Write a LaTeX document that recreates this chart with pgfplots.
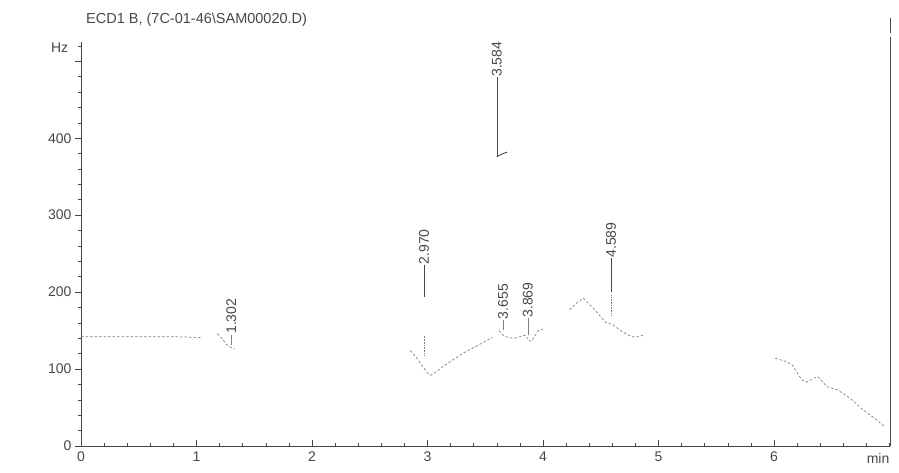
\documentclass[border=0pt]{standalone}
\usepackage{pgfplots}
\pgfplotsset{compat=1.18}
\usepackage{fontspec}
\setmainfont{Liberation Sans}
\definecolor{ink}{gray}{0.28}
\definecolor{trace}{gray}{0.5}
\begin{document}
\begin{tikzpicture}[x=1pt,y=1pt]
\useasboundingbox (0,0) rectangle (899,473);
\begin{axis}[
  at={(81pt,27pt)}, anchor=south west,
  scale only axis, width=808.5pt, height=404pt,
  xmin=0, xmax=7, ymin=0, ymax=525,
  axis x line*=bottom, axis y line*=left,
  axis line style={ink, line width=0.6pt},
  xtick={0,1,2,3,4,5,6}, ytick={0,100,200,300,400,500},
  yticklabels={0,100,200,300,400,{}},
  minor xtick={0,0.2,...,7}, minor ytick={0,20,...,520},
  xtick align=inside, ytick align=outside,
  major tick length=6pt, minor tick length=3pt,
  tick style={ink, line width=0.5pt},
  tick label style={font=\fontsize{14}{14}\selectfont, text=ink},
  xticklabel style={yshift=-2pt},
  /pgf/number format/assume math mode=true,
  clip=false,
]
% detector trace (faint, visible parts only)
\addplot[trace, line width=0.7pt, dash pattern=on 2.5pt off 2pt] coordinates {
 (0,142) (0.2,142) (0.5,142) (0.8,142) (1.05,141)};
\addplot[trace, line width=0.7pt, dash pattern=on 2.5pt off 2pt] coordinates {
 (1.18,146) (1.22,140) (1.26,132) (1.30,128) (1.33,126)};
\addplot[trace, line width=0.7pt, dash pattern=on 2.5pt off 2pt] coordinates {
 (2.85,124) (2.90,116) (2.95,105) (3.00,95) (3.03,92) (3.08,97) (3.13,103)
 (3.20,110) (3.30,120) (3.40,128) (3.50,136) (3.56,141)};
\addplot[ink, line width=0.9pt] coordinates {(3.60,376) (3.64,379) (3.69,382)};
\addplot[trace, line width=0.7pt, dash pattern=on 2.5pt off 2pt] coordinates {
 (3.62,150) (3.655,144) (3.70,141) (3.75,140) (3.80,142) (3.85,144) (3.87,138)
 (3.90,136) (3.96,150) (4.00,152)};
\addplot[trace, line width=0.7pt, dash pattern=on 2.5pt off 2pt] coordinates {
 (4.23,177) (4.30,187) (4.35,192) (4.43,180) (4.50,168) (4.54,161) (4.61,157)
 (4.69,148) (4.77,142) (4.83,142) (4.88,145)};
\addplot[trace, line width=0.7pt, dash pattern=on 2.5pt off 2pt] coordinates {
 (6.01,114) (6.10,110) (6.16,105) (6.24,86) (6.29,83) (6.34,88) (6.38,90)
 (6.46,77) (6.55,73) (6.66,62) (6.77,47) (6.87,36) (6.96,25)};
% retention time markers
\addplot[trace, line width=0.6pt] coordinates {(1.302,131) (1.302,144)};
\addplot[ink, line width=0.6pt] coordinates {(2.97,194) (2.97,235)};
\addplot[trace, line width=0.6pt, densely dotted] coordinates {(2.97,118) (2.97,143)};
\addplot[ink, line width=0.6pt] coordinates {(3.60,376) (3.60,479)};
\addplot[trace, line width=0.6pt] coordinates {(3.655,151) (3.655,164)};
\addplot[trace, line width=0.6pt] coordinates {(3.869,144) (3.869,166)};
\addplot[ink, line width=0.6pt] coordinates {(4.589,200) (4.589,244)};
\addplot[trace, line width=0.6pt, densely dotted] coordinates {(4.589,170) (4.589,196)};
% right border
\addplot[ink, line width=0.6pt] coordinates {(7.01,0) (7.01,532)};
\addplot[ink, line width=0.6pt] coordinates {(7.01,537) (7.01,556)};
% labels
\tikzset{rt/.style={rotate=90, anchor=west, inner sep=0.5pt, text=ink, font=\fontsize{14}{14}\selectfont}}
\node[rt] at (axis cs:1.302,145) {1.302};
\node[rt] at (axis cs:2.97,235) {2.970};
\node[rt] at (axis cs:3.60,479) {3.584};
\node[rt] at (axis cs:3.655,164) {3.655};
\node[rt] at (axis cs:3.869,166) {3.869};
\node[rt] at (axis cs:4.589,244) {4.589};
\node[anchor=east, text=ink, font=\fontsize{14}{14}\selectfont] at (axis cs:-0.08,518) {Hz};
\node[anchor=north east, text=ink, font=\fontsize{14}{14}\selectfont, inner sep=0pt] at (axis cs:7.0,-9) {min};
\end{axis}
\node[anchor=west, text=ink, font=\fontsize{14.5}{15}\selectfont, inner sep=0pt] at (86,453) {ECD1 B, (7C-01-46\textbackslash SAM00020.D)};
\end{tikzpicture}
\end{document}
